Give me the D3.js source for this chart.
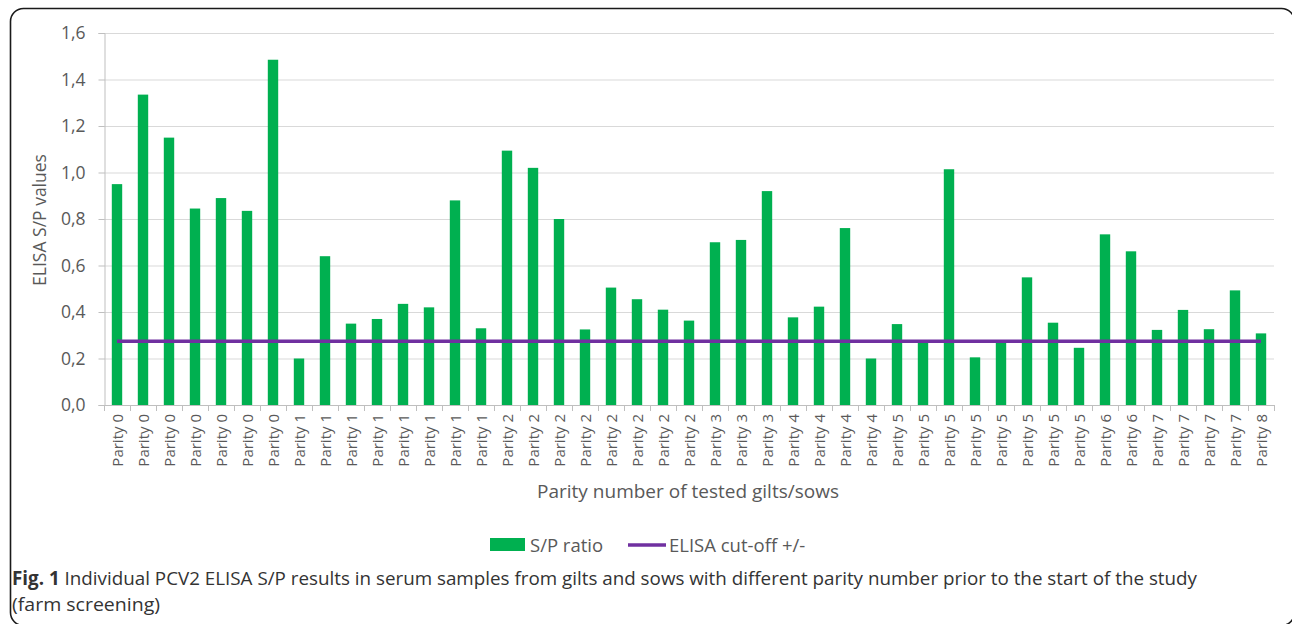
<!DOCTYPE html>
<html>
<head>
<meta charset="utf-8">
<script src="https://cdn.jsdelivr.net/npm/d3@7"></script>
<style>
  body { margin: 0; background: #fff; }
  svg { display: block; }
</style>
</head>
<body>
<svg id="chart" width="1292" height="624"></svg>
<script>
// parity group for each tested animal
const parities = [0,0,0,0,0,0,0, 1,1,1,1,1,1,1,1, 2,2,2,2,2,2,2,2, 3,3,3, 4,4,4,4, 5,5,5,5,5,5,5,5, 6,6, 7,7,7,7, 8];
// S/P ratio per animal
const spRatio = [0.95,1.335,1.15,0.845,0.89,0.835,1.485,
  0.20,0.64,0.35,0.37,0.435,0.42,0.88,0.33,
  1.094,1.02,0.80,0.325,0.505,0.455,0.41,0.363,
  0.70,0.71,0.92,
  0.377,0.423,0.761,0.20,
  0.348,0.272,1.014,0.205,0.272,0.549,0.354,0.246,
  0.734,0.661,
  0.323,0.409,0.326,0.493,
  0.308];
const cutOff = 0.274;
const yTicks = [0, 0.2, 0.4, 0.6, 0.8, 1.0, 1.2, 1.4, 1.6];

const svg = d3.select("#chart");
const font = "'Open Sans', 'Noto Sans', sans-serif";
const plotL = 104, plotR = 1274, plotT = 33, plotB = 405;

// frame of the figure (runs off the right and bottom edges)
svg.append("rect")
  .attr("x", 10.5).attr("y", 8.5)
  .attr("width", 1284).attr("height", 617)
  .attr("rx", 13)
  .attr("fill", "none").attr("stroke", "#1a1a1a").attr("stroke-width", 1.6);

const x = d3.scaleBand()
  .domain(d3.range(spRatio.length))
  .range([plotL, plotR])
  .paddingInner(0.6)
  .paddingOuter(0.3);

const y = d3.scaleLinear().domain([0, 1.6]).range([plotB, plotT]);

// gridlines
svg.append("g")
  .selectAll("line")
  .data(yTicks.slice(1))
  .join("line")
  .attr("x1", plotL).attr("x2", plotR)
  .attr("y1", d => y(d) + 0.5).attr("y2", d => y(d) + 0.5)
  .attr("stroke", "#d9d9d9").attr("stroke-width", 1);

// y axis
const yAxis = svg.append("g")
  .attr("transform", `translate(${plotL + 0.5},0)`)
  .call(d3.axisLeft(y).tickValues(yTicks).tickSize(6).tickPadding(13)
    .tickFormat(d => d3.format(".1f")(d).replace(".", ",")));
yAxis.select(".domain").attr("stroke", "#bfbfbf");
yAxis.selectAll(".tick line").attr("stroke", "#bfbfbf");
yAxis.selectAll(".tick text")
  .attr("fill", "#595959")
  .style("font-family", font).style("font-size", "17.5px");

// bars
svg.append("g")
  .selectAll("rect")
  .data(spRatio)
  .join("rect")
  .attr("x", (d, i) => x(i))
  .attr("width", x.bandwidth())
  .attr("y", d => y(d))
  .attr("height", d => y(0) - y(d))
  .attr("fill", "#00b050");

// x axis with ticks between categories
const step = x.step();
const xg = svg.append("g");
xg.append("line")
  .attr("x1", plotL).attr("x2", plotR)
  .attr("y1", plotB + 0.5).attr("y2", plotB + 0.5)
  .attr("stroke", "#bfbfbf");
xg.selectAll("line.tk")
  .data(d3.range(spRatio.length + 1))
  .join("line")
  .attr("class", "tk")
  .attr("x1", i => plotL + i * step + 0.5).attr("x2", i => plotL + i * step + 0.5)
  .attr("y1", plotB).attr("y2", plotB + 6)
  .attr("stroke", "#bfbfbf");
xg.selectAll("text")
  .data(parities)
  .join("text")
  .attr("transform", (d, i) => `translate(${x(i) + x.bandwidth() / 2 + 5.5},${plotB + 9}) rotate(-90)`)
  .attr("text-anchor", "end")
  .attr("fill", "#595959")
  .style("font-family", font).style("font-size", "15px")
  .text(d => "Parity " + d);

// cut-off line
svg.append("line")
  .attr("x1", x(0) + x.bandwidth() / 2)
  .attr("x2", x(spRatio.length - 1) + x.bandwidth() / 2)
  .attr("y1", y(cutOff)).attr("y2", y(cutOff))
  .attr("stroke", "#7030a0").attr("stroke-width", 3.5);

// axis titles
svg.append("text")
  .attr("transform", `translate(46,${(plotT + plotB) / 2 + 1}) rotate(-90)`)
  .attr("text-anchor", "middle")
  .attr("fill", "#595959")
  .style("font-family", font).style("font-size", "17.5px")
  .text("ELISA S/P values");

svg.append("text")
  .attr("x", 688).attr("y", 498)
  .attr("text-anchor", "middle")
  .attr("fill", "#595959")
  .style("font-family", font).style("font-size", "19px")
  .text("Parity number of tested gilts/sows");

// legend
const lg = svg.append("g").style("font-family", font).style("font-size", "18.5px").attr("fill", "#595959");
lg.append("rect").attr("x", 490).attr("y", 538).attr("width", 35).attr("height", 13).attr("fill", "#00b050");
lg.append("text").attr("x", 530).attr("y", 552).text("S/P ratio");
lg.append("line").attr("x1", 628).attr("x2", 666).attr("y1", 545).attr("y2", 545)
  .attr("stroke", "#7030a0").attr("stroke-width", 3.5);
lg.append("text").attr("x", 669).attr("y", 552).text("ELISA cut-off +/-");

// caption
const cap = svg.append("text")
  .attr("x", 12).attr("y", 585)
  .attr("fill", "#333")
  .attr("textLength", 1185).attr("lengthAdjust", "spacingAndGlyphs")
  .style("font-family", font).style("font-size", "19px");
cap.append("tspan").attr("font-weight", "bold").text("Fig. 1");
cap.append("tspan").text(" Individual PCV2 ELISA S/P results in serum samples from gilts and sows with different parity number prior to the start of the study");
svg.append("text")
  .attr("x", 12).attr("y", 611)
  .attr("fill", "#333")
  .attr("textLength", 148).attr("lengthAdjust", "spacingAndGlyphs")
  .style("font-family", font).style("font-size", "19px")
  .text("(farm screening)");
</script>
</body>
</html>
